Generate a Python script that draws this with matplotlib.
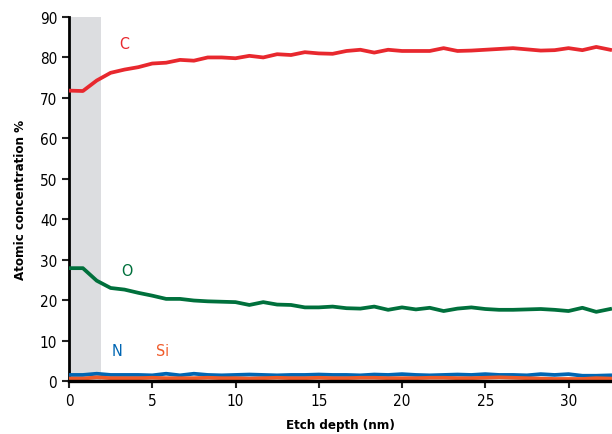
import matplotlib
matplotlib.use("Agg")
import matplotlib.pyplot as plt

plt.rcParams['font.family'] = ['DejaVu Sans']
plt.rcParams['font.stretch'] = 'condensed'

# etch depth steps (nm)
step = 0.833
depth = [i * step for i in range(40)]

carbon = [71.8, 71.7, 74.3, 76.2, 77.0, 77.6, 78.5, 78.7, 79.4, 79.2,
          80.0, 80.0, 79.8, 80.4, 80.0, 80.8, 80.6, 81.3, 81.0, 80.9,
          81.6, 81.9, 81.2, 81.9, 81.6, 81.6, 81.6, 82.3, 81.6, 81.7,
          81.9, 82.1, 82.3, 82.0, 81.7, 81.8, 82.3, 81.8, 82.6, 81.9]
oxygen = [27.9, 27.9, 24.8, 23.0, 22.6, 21.8, 21.1, 20.3, 20.3, 19.9,
          19.7, 19.6, 19.5, 18.8, 19.5, 18.9, 18.8, 18.2, 18.2, 18.4,
          18.0, 17.9, 18.4, 17.6, 18.2, 17.7, 18.1, 17.3, 17.9, 18.2,
          17.8, 17.6, 17.6, 17.7, 17.8, 17.6, 17.3, 18.1, 17.1, 17.8]
nitrogen = [1.5, 1.5, 1.8, 1.5, 1.5, 1.5, 1.4, 1.8, 1.4, 1.8,
            1.5, 1.4, 1.5, 1.6, 1.5, 1.4, 1.5, 1.5, 1.6, 1.5,
            1.5, 1.4, 1.6, 1.5, 1.7, 1.5, 1.4, 1.5, 1.6, 1.5,
            1.7, 1.5, 1.5, 1.4, 1.7, 1.5, 1.7, 1.3, 1.3, 1.4]
silicon = [0.6, 0.6, 0.9, 0.7, 0.7, 0.7, 0.8, 0.7, 0.7, 0.7,
           0.8, 0.7, 0.7, 0.6, 0.7, 0.8, 0.7, 0.7, 0.8, 0.7,
           0.7, 0.8, 0.8, 0.7, 0.7, 0.7, 0.8, 0.8, 0.7, 0.7,
           0.8, 0.9, 0.8, 0.7, 0.6, 0.5, 0.5, 0.5, 0.7, 0.6]

fig = plt.figure(figsize=(6.12, 4.35), dpi=100)
ax = fig.add_axes([69/612, 1 - 382/435, 1 - 69/612, (382 - 18)/435])

# shaded surface region
ax.axvspan(0, 1.93, color="#dcdde0", lw=0, zorder=0)

ax.plot(depth, nitrogen, c="#0066b3", lw=2.7, zorder=3)
ax.plot(depth, silicon, c="#f05a28", lw=2.7, zorder=3)
ax.plot(depth, oxygen, c="#00703c", lw=2.7, zorder=3)
ax.plot(depth, carbon, c="#e8282e", lw=2.7, zorder=3)

ax.text(3.3, 83.4, "C", color="#e8282e", fontsize=11.5, ha="center", va="center")
ax.text(3.5, 27.2, "O", color="#00703c", fontsize=11.5, ha="center", va="center")
ax.text(2.9, 7.6, "N", color="#0066b3", fontsize=11.5, ha="center", va="center")
ax.text(5.6, 7.6, "Si", color="#f05a28", fontsize=11.5, ha="center", va="center")

ax.set_xlim(0, 32.6)
ax.set_ylim(0, 90)
ax.set_xticks([0, 5, 10, 15, 20, 25, 30])
ax.set_yticks(range(0, 91, 10))
ax.spines["top"].set_visible(False)
ax.spines["right"].set_visible(False)
ax.spines["left"].set_linewidth(2)
ax.spines["bottom"].set_linewidth(2.4)
ax.spines["bottom"].set_zorder(4)
ax.tick_params(axis="both", labelsize=11, width=1.5, length=5, color="#222222")
ax.set_xlabel("Etch depth (nm)", fontsize=9.5, fontweight="bold", labelpad=7)
ax.set_ylabel("Atomic concentration %", fontsize=9.5, fontweight="bold", labelpad=9)

fig.savefig("out.png", dpi=100)
